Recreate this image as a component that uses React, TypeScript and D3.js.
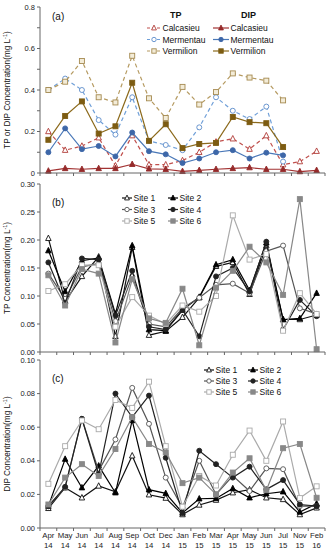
import React from "react";
import * as d3 from "d3";

const categories = ["Apr 14","May 14","Jun 14","Jul 14","Aug 14","Sep 14","Oct 14","Dec 14","Jan 15","Feb 15","Mar 15","Apr 15","May 15","Jun 15","Jul 15","Nov 15","Feb 16"];

// Panel (a)
const calcasieuTP = [0.20,0.11,0.13,0.17,0.035,0.18,0.04,0.04,0.06,0.10,0.15,0.165,0.115,0.18,0.04,0.055,0.105];
const mermentauTP = [0.40,0.455,0.40,0.255,0.185,0.365,0.155,0.135,0.11,0.22,0.365,0.30,0.26,0.32,0.055,null,null];
const vermilionTP = [0.40,0.44,0.54,0.365,0.34,0.565,0.36,0.265,0.415,0.33,0.39,0.48,0.46,0.445,0.35,null,null];
const calcasieuDIP = [0.01,0.022,0.018,0.022,0.022,0.042,0.02,0.018,0.008,0.013,0.018,0.022,0.026,0.018,0.018,0.007,0.013];
const mermentauDIP = [0.10,0.215,0.115,0.13,0.08,0.195,0.105,0.09,0.048,0.07,0.10,0.11,0.07,0.098,0.085,null,null];
const vermilionDIP = [0.16,0.275,0.345,0.19,0.225,0.435,0.155,0.235,0.12,0.14,0.145,0.27,0.245,0.24,0.125,null,null];

// Panel (b) TP by site
const tpSite1 = [0.203,0.09,0.135,0.17,0.028,0.187,0.03,0.037,0.062,0.097,0.153,0.16,0.103,0.19,0.058,0.058,0.066];
const tpSite2 = [0.181,0.108,0.163,0.168,0.068,0.19,0.04,0.038,0.075,0.098,0.156,0.165,0.11,0.195,0.058,0.06,0.105];
const tpSite3 = [0.14,0.095,0.152,0.158,0.055,0.135,0.05,0.045,0.078,0.097,0.12,0.122,0.105,0.18,0.19,0.078,0.068];
const tpSite4 = [0.16,0.088,0.167,0.165,0.065,0.145,0.045,0.04,0.075,0.028,0.135,0.15,0.108,0.197,0.04,0.093,0.064];
const tpSite5 = [0.109,0.121,0.155,0.155,0.045,0.098,0.065,0.05,0.083,0.072,0.10,0.244,0.165,0.175,0.038,0.105,0.068];
const tpSite6 = [0.137,0.083,0.148,0.14,0.017,0.13,0.06,0.052,0.113,0.012,0.115,0.145,0.188,0.16,0.102,0.273,0.005];

// Panel (c) DIP by site
const dipSite1 = [0.0117,0.024,0.018,0.025,0.0216,0.043,0.0198,0.0178,0.008,0.0137,0.0166,0.021,0.0228,0.018,0.017,0.008,0.012];
const dipSite2 = [0.013,0.041,0.024,0.037,0.021,0.064,0.0228,0.0206,0.009,0.0174,0.0176,0.0235,0.018,0.0204,0.0216,0.0095,0.0145];
const dipSite3 = [0.013,0.024,0.065,0.034,0.0527,0.0834,0.062,0.030,0.012,0.040,0.020,0.031,0.022,0.0355,0.035,0.013,0.013];
const dipSite4 = [0.013,0.0245,0.065,0.032,0.080,0.066,0.0788,0.0418,0.009,0.046,0.038,0.030,0.0365,0.023,0.0285,0.014,0.013];
const dipSite5 = [0.0263,0.0487,0.064,0.0588,0.0762,0.0715,0.0871,0.0487,0.0127,0.031,0.0253,0.0436,0.058,0.040,0.0634,0.0178,0.0248];
const dipSite6 = [0.014,0.030,0.038,0.031,0.047,0.066,0.050,0.045,0.0267,0.030,0.020,0.033,0.0415,0.0225,0.0475,0.050,0.018];

type Shape = "tri" | "circle" | "square";
interface Series { name: string; values: (number | null)[]; color: string; markColor: string; dashed: boolean; shape: Shape; filled: boolean; openFill?: string; }

const seriesA: Series[] = [
  { name: "Calcasieu", values: calcasieuTP, color: "#c0504d", markColor: "#b03a36", dashed: true, shape: "tri", filled: false },
  { name: "Mermentau", values: mermentauTP, color: "#6f9fd8", markColor: "#5b8bc9", dashed: true, shape: "circle", filled: false },
  { name: "Vermilion", values: vermilionTP, color: "#b59a60", markColor: "#a58a50", dashed: true, shape: "square", filled: false, openFill: "#f3ecd8" },
  { name: "Calcasieu", values: calcasieuDIP, color: "#a23333", markColor: "#952a2a", dashed: false, shape: "tri", filled: true },
  { name: "Mermentau", values: mermentauDIP, color: "#4a78b8", markColor: "#3d67a8", dashed: false, shape: "circle", filled: true },
  { name: "Vermilion", values: vermilionDIP, color: "#8c6a1c", markColor: "#7d5c12", dashed: false, shape: "square", filled: true },
];

const siteStyles = [
  { name: "Site 1", color: "#111111", shape: "tri" as Shape, filled: false },
  { name: "Site 2", color: "#000000", shape: "tri" as Shape, filled: true },
  { name: "Site 3", color: "#555555", shape: "circle" as Shape, filled: false },
  { name: "Site 4", color: "#222222", shape: "circle" as Shape, filled: true },
  { name: "Site 5", color: "#aaaaaa", shape: "square" as Shape, filled: false },
  { name: "Site 6", color: "#888888", shape: "square" as Shape, filled: true },
];
const tpSites = [tpSite1, tpSite2, tpSite3, tpSite4, tpSite5, tpSite6];
const dipSites = [dipSite1, dipSite2, dipSite3, dipSite4, dipSite5, dipSite6];

const seriesB: Series[] = siteStyles.map((s, i) => ({ ...s, values: tpSites[i], markColor: s.color, dashed: false }));
const seriesC: Series[] = siteStyles.map((s, i) => ({ ...s, values: dipSites[i], markColor: s.color, dashed: false }));

const FONT = "Arial, 'Liberation Sans', sans-serif";
const X0 = 40, X1 = 325;

const x = d3.scaleBand<string>().domain(categories).range([X0, X1]).padding(0);
const cx = (c: string) => (x(c) as number) + x.bandwidth() / 2;

function Marker({ px, py, shape, filled, color, fill, r = 2.5 }: { px: number; py: number; shape: Shape; filled: boolean; color: string; fill?: string; r?: number }) {
  const f = filled ? color : (fill || "#ffffff");
  if (shape === "circle") return <circle cx={px} cy={py} r={r} fill={f} stroke={color} strokeWidth={0.9} />;
  if (shape === "square") return <rect x={px - r} y={py - r} width={2 * r} height={2 * r} fill={f} stroke={color} strokeWidth={0.9} />;
  const h = r * 1.1;
  return <path d={`M${px},${py - h - 0.5} L${px + h},${py + h * 0.8} L${px - h},${py + h * 0.8} Z`} fill={f} stroke={color} strokeWidth={0.9} />;
}

function Panel({ series, yTop, yBottom, yMax, ticks, labelTicks, fmt, yLabel, tag, showX }: {
  series: Series[]; yTop: number; yBottom: number; yMax: number; ticks: number[]; labelTicks: number[]; fmt: (v: number) => string; yLabel: React.ReactNode; tag: string; showX: boolean;
}) {
  const y = d3.scaleLinear().domain([0, yMax]).range([yBottom, yTop]);
  const line = d3.line<{ c: string; v: number | null }>().defined(d => d.v != null).x(d => cx(d.c)).y(d => y(d.v as number));
  const bounds = d3.range(categories.length + 1).map(i => X0 + i * x.bandwidth());
  const mid = (yTop + yBottom) / 2;
  return (
    <g>
      {series.map((s, i) => {
        const pts = categories.map((c, j) => ({ c, v: s.values[j] }));
        return (
          <g key={i}>
            <path d={line(pts) || ""} fill="none" stroke={s.color} strokeWidth={1.2} strokeDasharray={s.dashed ? "4,3" : undefined} />
            {pts.filter(p => p.v != null).map((p, j) => (
              <Marker key={j} px={cx(p.c)} py={y(p.v as number)} shape={s.shape} filled={s.filled} color={s.markColor} fill={s.openFill} />
            ))}
          </g>
        );
      })}
      <line x1={X0} x2={X0} y1={yTop} y2={yBottom} stroke="#666" strokeWidth={1} />
      <line x1={X0} x2={X1} y1={yBottom} y2={yBottom} stroke="#666" strokeWidth={1} />
      {ticks.map((t, i) => (
        <line key={i} x1={X0 - 3} x2={X0} y1={y(t)} y2={y(t)} stroke="#666" strokeWidth={1} />
      ))}
      {labelTicks.map((t, i) => (
        <text key={i} x={X0 - 5} y={y(t) + 2.6} textAnchor="end" fontSize={7.5} fontFamily={FONT} fill="#222">{fmt(t)}</text>
      ))}
      {bounds.map((b, i) => (
        <line key={i} x1={b} x2={b} y1={yBottom} y2={yBottom + 3} stroke="#666" strokeWidth={1} />
      ))}
      <text transform={`translate(10,${mid}) rotate(-90)`} textAnchor="middle" fontSize={8.2} fontFamily={FONT} fill="#111">{yLabel}</text>
      <text x={52} y={yTop + (tag === "(a)" ? 13 : 22)} fontSize={10} fontFamily={FONT} fill="#111">{tag}</text>
      {showX && categories.map((c, i) => {
        const [m, yr] = c.split(" ");
        return (
          <text key={i} x={cx(c)} y={yBottom + 10} textAnchor="middle" fontSize={7.8} fontFamily={FONT} fill="#222">
            <tspan x={cx(c)}>{m}</tspan>
            <tspan x={cx(c)} dy={10}>{yr}</tspan>
          </text>
        );
      })}
    </g>
  );
}

function LegendItem({ lx, ly, s, w = 14 }: { lx: number; ly: number; s: Series; w?: number }) {
  return (
    <g>
      <line x1={lx} x2={lx + w} y1={ly} y2={ly} stroke={s.color} strokeWidth={1.2} strokeDasharray={s.dashed ? "3,2" : undefined} />
      <Marker px={lx + w / 2} py={ly} shape={s.shape} filled={s.filled} color={s.markColor} fill={s.openFill} r={2.2} />
      <text x={lx + w + 1.5} y={ly + 3} fontSize={8.5} fontFamily={FONT} fill="#111">{s.name}</text>
    </g>
  );
}

export default function App() {
  return (
    <svg width={330} height={550} style={{ position: "absolute", left: 0, top: 0, background: "#fff" }}>
      <rect x={0} y={0} width={330} height={550} fill="#fff" />
      <Panel series={seriesA} yTop={7} yBottom={173} yMax={0.8}
        ticks={d3.range(0, 0.81, 0.1)} labelTicks={[0, 0.2, 0.4, 0.6, 0.8]}
        fmt={v => (v === 0 ? "0" : d3.format(".1f")(v))}
        yLabel={<>TP or DIP Concentration(mg L<tspan dy={-3} fontSize={5.5}>-1</tspan><tspan dy={3}>)</tspan></>}
        tag="(a)" showX={false} />
      <Panel series={seriesB} yTop={184} yBottom={352} yMax={0.3}
        ticks={d3.range(0, 0.301, 0.05)} labelTicks={d3.range(0, 0.301, 0.05)}
        fmt={d3.format(".2f")}
        yLabel={<>TP Concentration(mg L<tspan dy={-3} fontSize={5.5}>-1</tspan><tspan dy={3}>)</tspan></>}
        tag="(b)" showX={false} />
      <Panel series={seriesC} yTop={360} yBottom={528} yMax={0.1}
        ticks={d3.range(0, 0.101, 0.02)} labelTicks={d3.range(0, 0.101, 0.02)}
        fmt={d3.format(".2f")}
        yLabel={<>DIP Concentration(mg L<tspan dy={-3} fontSize={5.5}>-1</tspan><tspan dy={3}>)</tspan></>}
        tag="(c)" showX={true} />

      {/* Legend (a) */}
      <text x={170} y={18} fontSize={9} fontFamily={FONT} fontWeight="bold" fill="#111">TP</text>
      <text x={241} y={18} fontSize={9} fontFamily={FONT} fontWeight="bold" fill="#111">DIP</text>
      {seriesA.slice(0, 3).map((s, i) => <LegendItem key={i} lx={147} ly={28 + i * 11.5} s={s} />)}
      {seriesA.slice(3).map((s, i) => <LegendItem key={i} lx={213} ly={28 + i * 11.5} s={s} w={16} />)}

      {/* Legend (b) */}
      {seriesB.map((s, i) => <LegendItem key={i} lx={i % 2 === 0 ? 122 : 168} ly={198 + Math.floor(i / 2) * 11.5} s={s} w={10} />)}
      {/* Legend (c) */}
      {seriesC.map((s, i) => <LegendItem key={i} lx={i % 2 === 0 ? 204 : 248} ly={370 + Math.floor(i / 2) * 11} s={s} w={10} />)}
    </svg>
  );
}
